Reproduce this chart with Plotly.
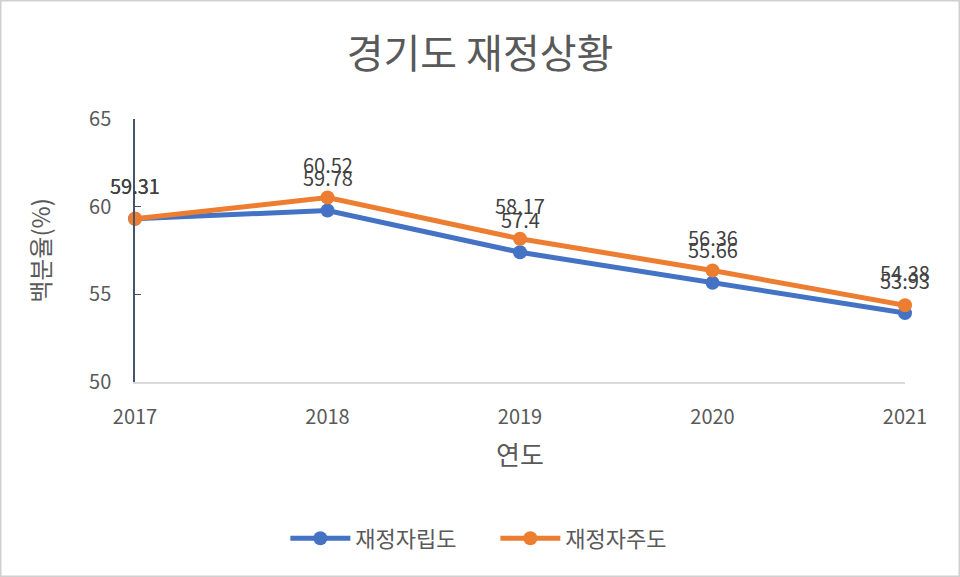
import plotly.graph_objects as go

years = [2017, 2018, 2019, 2020, 2021]
jarip = [59.31, 59.78, 57.4, 55.66, 53.93]
jaju = [59.31, 60.52, 58.17, 56.36, 54.38]
names = ["재정자립도", "재정자주도"]
colors = ["#4472C4", "#ED7D31"]
yticks = [50, 55, 60, 65]

FONT = "Noto Sans CJK KR"
fig = go.Figure()
for vals, name, col in [(jarip, names[0], colors[0]), (jaju, names[1], colors[1])]:
    fig.add_trace(go.Scatter(
        x=years, y=vals, name=name, mode="lines+markers",
        line=dict(color=col, width=5), marker=dict(color=col, size=14),
        cliponaxis=False,
    ))
annotations = []
for vals in [jarip, jaju]:
    for x, v in zip(years, vals):
        annotations.append(dict(x=x, y=v, text=f"{v:g}", showarrow=False,
                                yshift=33, font=dict(family=FONT, size=20, color="#404040")))
fig.update_layout(
    width=960, height=577,
    paper_bgcolor="white", plot_bgcolor="white",
    margin=dict(l=135, r=55, t=119, b=195),
    title=dict(text="경기도 재정상황", x=0.5, xanchor="center", y=1 - 54 / 577, yanchor="middle",
               font=dict(family=FONT, size=40, color="#595959")),
    font=dict(family=FONT, color="#595959"),
    xaxis=dict(range=[2017, 2021], tickvals=years, showgrid=False, zeroline=False,
               showline=True, linecolor="#D9D9D9", linewidth=1.5,
               tickfont=dict(size=20, color="#595959"), ticks="", ticklabelstandoff=16,
               title=dict(text="연도", font=dict(size=26, color="#595959"), standoff=18)),
    yaxis=dict(range=[50, 65], tickvals=yticks, showgrid=False, zeroline=False,
               showline=True, linecolor="#44546A", linewidth=1.5,
               ticks="inside", ticklen=6, tickcolor="#44546A",
               tickfont=dict(size=20, color="#595959"), ticklabelstandoff=18,
               title=dict(text="백분율(%)", font=dict(size=24, color="#595959"), standoff=32)),
    legend=dict(orientation="h", x=0.468, xanchor="center", y=-0.595, yanchor="middle",
                font=dict(family=FONT, size=22, color="#595959"), itemwidth=60,
                entrywidth=135),
    annotations=annotations,
)
fig.add_shape(type="rect", xref="paper", yref="paper", x0=-135/770, x1=1 + 55/770,
              y0=-195/263, y1=1 + 119/263, line=dict(color="#D0D0D0", width=3))
fig.write_html("out.html")
